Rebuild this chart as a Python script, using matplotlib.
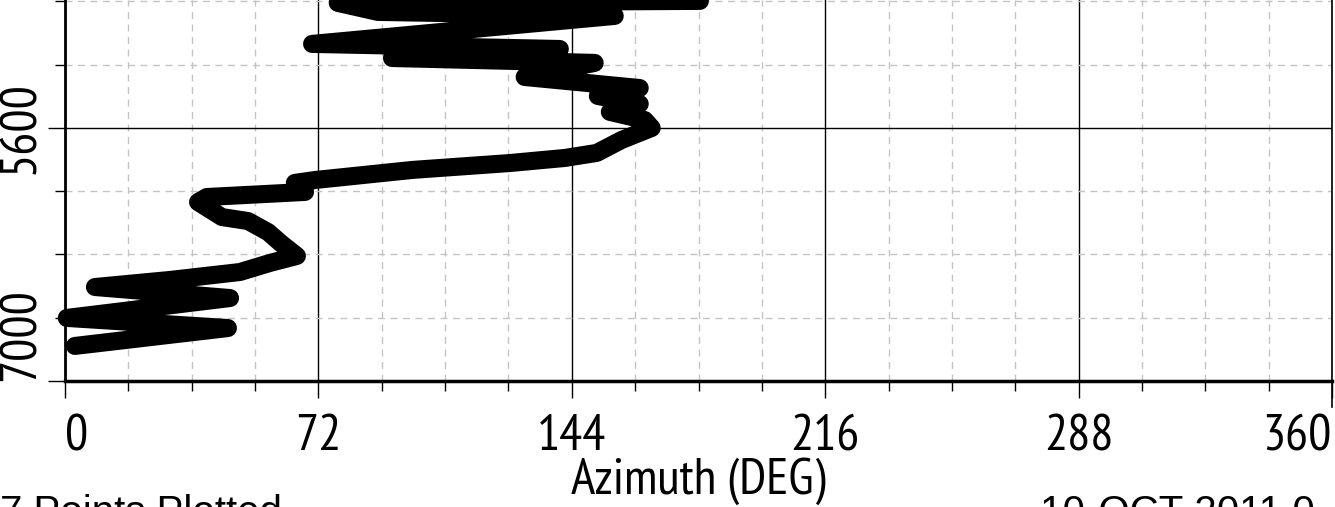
import matplotlib
matplotlib.use("Agg")
import matplotlib.pyplot as plt
from matplotlib.ticker import MultipleLocator

# --- data (shallow -> deep) ---
depth = [4897, 4908, 4958, 4980, 5135, 5163, 5213, 5240, 5318, 5379,
         5423, 5467, 5511, 5556, 5600, 5666, 5738, 5766, 5794, 5832,
         5888, 5904, 5954, 5982, 6010, 6093, 6115, 6176, 6242, 6308,
         6347, 6397, 6441, 6480, 6541, 6651, 6707, 6806]
azimuth = [180.4, 77.5, 88.9, 156.2, 70.2, 140.6, 92.9, 150.5, 130.6, 163.3,
           151.4, 163.3, 154.8, 164.7, 166.7, 158.2, 151.1, 142.0, 126.4, 98.8,
           71.0, 65.3, 68.2, 40.3, 37.8, 44.6, 52.0, 57.7, 61.6, 65.9,
           58.2, 49.7, 29.8, 8.5, 46.9, 0.5, 46.3, 2.8]

x_ticks = [0, 72, 144, 216, 288, 360]
y_ticks = [5600, 7000]
x_label = "Azimuth (DEG)"
footer_left = "7 Points Plotted"
footer_right = "10-OCT-2011 0"

NARROW = ["Arial Narrow", "Liberation Sans Narrow", "PT Sans Narrow",
          "Archivo Narrow", "DejaVu Sans"]
REGULAR = ["Liberation Sans", "DejaVu Sans"]
FS = 37

fig = plt.figure(figsize=(13.35, 5.07), dpi=100)
ax = fig.add_axes([65 / 1335, 126 / 507, 1267 / 1335, 381 / 507])

ax.plot(azimuth, depth, color="black", lw=13,
        solid_joinstyle="round", solid_capstyle="round", clip_on=False, zorder=3)

ax.set_xlim(0, 360)
ax.set_ylim(7000, 4892)

# --- ticks / grid ---
ax.set_xticks(x_ticks)
ax.set_xticklabels([str(t) for t in x_ticks], fontsize=FS, family=NARROW)
ax.get_xticklabels()[0].set_ha("left")    # end labels kept inside the frame
ax.get_xticklabels()[-1].set_ha("right")
ax.set_yticks(y_ticks)
ax.set_yticklabels([str(t) for t in y_ticks], fontsize=FS, family=NARROW,
                   rotation=90, va="center")
ax.get_yticklabels()[-1].set_va("bottom")
ax.xaxis.set_minor_locator(MultipleLocator(18))
ax.yaxis.set_minor_locator(MultipleLocator(350))

ax.tick_params(which="major", direction="out", length=12, width=1, color="black")
ax.tick_params(which="minor", direction="out", length=7, width=1, color="black")
ax.tick_params(axis="x", which="major", pad=12)
ax.tick_params(axis="y", which="major", pad=3)

ax.set_axisbelow(True)
ax.grid(which="major", color="black", lw=1, ls="-")
ax.grid(which="minor", color="#c4c4c4", lw=1, ls=(0, (5, 4)))

ax.spines["top"].set_visible(False)
ax.spines["left"].set_linewidth(2)
ax.spines["bottom"].set_linewidth(2.5)
ax.spines["right"].set_linewidth(1.2)

# right edge tick runs a bit further down
ax.plot([360, 360], [0, -0.068], color="black", lw=1.2,
        transform=ax.get_xaxis_transform(), clip_on=False)

ax.set_xlabel(x_label, fontsize=FS, family=NARROW, labelpad=-2)

fig.text(0, -0.0335, footer_left, fontsize=29, family=REGULAR,
         ha="left", va="baseline")
fig.text(1040 / 1335, -0.0335, footer_right, fontsize=29, family=REGULAR,
         ha="left", va="baseline")

fig.savefig("out.png", dpi=100)
